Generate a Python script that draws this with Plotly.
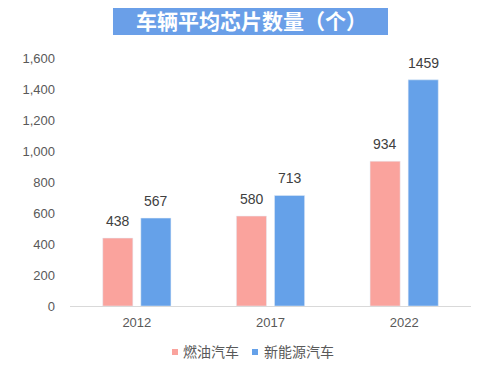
import plotly.graph_objects as go

years = ["2012", "2017", "2022"]
fuel = [438, 580, 934]
nev = [567, 713, 1459]
series_names = ["燃油汽车", "新能源汽车"]
series_colors = ["#FAA39D", "#65A1E9"]
title_text = "车辆平均芯片数量（个）"
y_ticks = [0, 200, 400, 600, 800, 1000, 1200, 1400, 1600]

font_family = "Noto Sans CJK SC, Liberation Sans, Arial, sans-serif"
num_font = "Liberation Sans, Arial, sans-serif"

fig = go.Figure()
for vals, name, col in [(fuel, series_names[0], series_colors[0]), (nev, series_names[1], series_colors[1])]:
    fig.add_trace(go.Bar(x=years, y=vals, name=name, marker_color=col, showlegend=False))

annotations = []
# data labels above bars (x given as category index)
for vals, shift in [(fuel, -19), (nev, 19)]:
    for i, v in enumerate(vals):
        annotations.append(dict(x=i, y=v, xref="x", yref="y", text=str(v), showarrow=False,
                                xshift=shift, yshift=17, xanchor="center", yanchor="middle",
                                font=dict(size=14, color="#404040", family=num_font)))
# title text (box drawn as a shape below)
annotations.append(dict(text="<b>" + title_text + "</b>", xref="paper", yref="paper",
                        x=0.452, y=1.1552, xanchor="center", yanchor="middle",
                        showarrow=False,
                        font=dict(size=21, color="white", family=font_family)))
# legend texts
for name, px in [(series_names[0], 0.2768), (series_names[1], 0.4788)]:
    annotations.append(dict(text=name, xref="paper", yref="paper", x=px, y=-0.1815,
                            xanchor="left", yanchor="middle", showarrow=False,
                            font=dict(size=14, color="#595959", family=font_family)))

shapes = [dict(type="rect", xref="paper", yref="paper", x0=0.1072, x1=0.793,
               y0=1.0927, y1=1.2177, fillcolor="#6A9FE8", line=dict(width=0))]
for col, (x0, x1) in zip(series_colors, [(0.2544, 0.2693), (0.4539, 0.4688)]):
    shapes.append(dict(type="rect", xref="paper", yref="paper", x0=x0, x1=x1,
                       y0=-0.1976, y1=-0.1734, fillcolor=col, line=dict(width=0)))

# page body has an 8px default margin, so the figure is shifted by 8px
fig.update_layout(
    width=472, height=361,
    margin=dict(l=62, r=9, t=50, b=63, autoexpand=False),
    paper_bgcolor="white", plot_bgcolor="white",
    barmode="group", bargap=0.43, bargroupgap=0.21,
    font=dict(family=font_family, color="#595959"),
    showlegend=False,
    xaxis=dict(type="category", range=[-0.5, len(years) - 0.5], autorange=False,
               showline=True, linecolor="#D9D9D9", linewidth=1, ticks="",
               automargin=False, ticklabelstandoff=4,
               tickfont=dict(size=13, color="#595959", family=num_font)),
    yaxis=dict(range=[0, 1600], autorange=False, tickvals=y_ticks, tickformat=",", showgrid=False,
               zeroline=False, showline=False, automargin=False, ticklabelstandoff=14,
               tickfont=dict(size=13, color="#595959", family=num_font)),
    annotations=annotations,
    shapes=shapes,
)

fig.write_html("out.html", config={"displayModeBar": False})
